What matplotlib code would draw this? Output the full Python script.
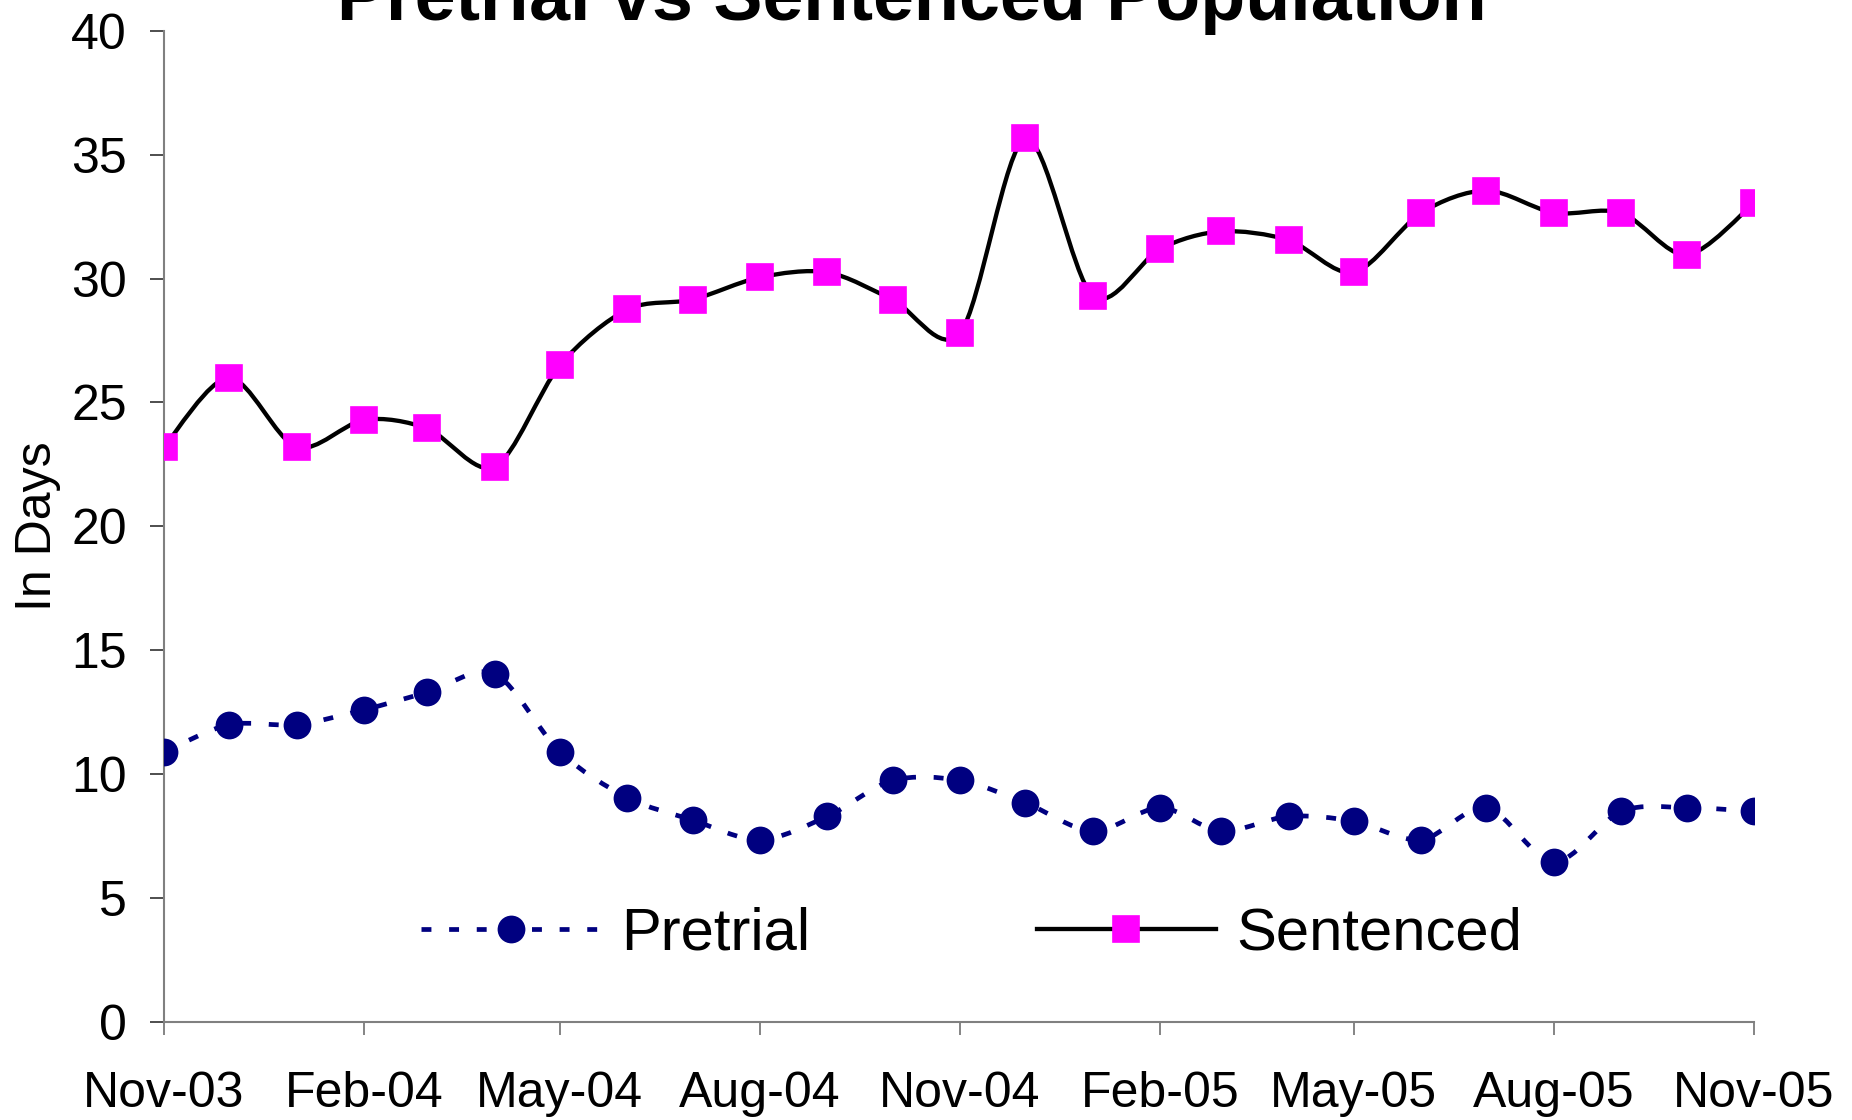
import matplotlib
matplotlib.use("Agg")
import matplotlib.pyplot as plt
import matplotlib.dates as mdates
from matplotlib.path import Path
from matplotlib.patches import PathPatch
from matplotlib.lines import Line2D
import datetime as dt

# ---- data ----
months = ["2003-11", "2003-12", "2004-01", "2004-02", "2004-03", "2004-04", "2004-05",
          "2004-06", "2004-07", "2004-08", "2004-09", "2004-10", "2004-11", "2004-12",
          "2005-01", "2005-02", "2005-03", "2005-04", "2005-05", "2005-06", "2005-07",
          "2005-08", "2005-09", "2005-10", "2005-11"]
pretrial = [10.9, 12.0, 12.0, 12.6, 13.3, 14.05, 10.9, 9.05, 8.15, 7.35, 8.3, 9.75,
            9.75, 8.85, 7.7, 8.65, 7.7, 8.3, 8.1, 7.35, 8.65, 6.45, 8.5, 8.65, 8.5]
sentenced = [23.2, 26.0, 23.2, 24.3, 23.95, 22.4, 26.5, 28.75, 29.15, 30.05, 30.25,
             29.15, 27.8, 35.65, 29.3, 31.2, 31.9, 31.55, 30.25, 32.65, 33.55, 32.65,
             32.65, 30.95, 33.05]
tick_months = ["2003-11", "2004-02", "2004-05", "2004-08", "2004-11", "2005-02",
               "2005-05", "2005-08", "2005-11"]
title = "Pretrial vs Sentenced Population"
ylabel = "In Days"

plt.rcParams['font.family'] = ['Liberation Sans', 'DejaVu Sans']

def to_date(s):
    y, m = s.split("-")
    return dt.datetime(int(y), int(m), 1)

dates = [to_date(m) for m in months]
xnum = mdates.date2num(dates)
tick_dates = [to_date(m) for m in tick_months]

def smooth_path(xs, ys, k=1 / 6.0):
    n = len(xs)
    verts = [(xs[0], ys[0])]
    codes = [Path.MOVETO]
    for i in range(n - 1):
        p0 = i - 1 if i > 0 else 0
        p3 = i + 2 if i + 2 < n else n - 1
        c1 = (xs[i] + (xs[i + 1] - xs[p0]) * k, ys[i] + (ys[i + 1] - ys[p0]) * k)
        c2 = (xs[i + 1] - (xs[p3] - xs[i]) * k, ys[i + 1] - (ys[p3] - ys[i]) * k)
        verts += [c1, c2, (xs[i + 1], ys[i + 1])]
        codes += [Path.CURVE4] * 3
    return Path(verts, codes)

W, H, DPI = 1852, 1120, 100
fig = plt.figure(figsize=(W / DPI, H / DPI), dpi=DPI)
ax = fig.add_axes([0.08855, 0.0875, 0.9471 - 0.08855, 0.9726 - 0.0875])

navy = "#000080"
magenta = "#FF00FF"
dash = (0, (2.1, 3.75))
lw_sent = 3.1
lw_pre = 3.4
ms_circ = 20
ms_sq = 18.8

# sentenced smoothed line
ax.add_patch(PathPatch(smooth_path(xnum, sentenced, 0.15), fill=False, edgecolor="black",
                       linewidth=lw_sent, zorder=2, capstyle="round", joinstyle="round"))
# pretrial smoothed dotted line
ax.add_patch(PathPatch(smooth_path(xnum, pretrial, 0.15), fill=False, edgecolor=navy,
                       linewidth=lw_pre, linestyle=dash, capstyle="butt", zorder=2))

ax.plot(dates, pretrial, linestyle="none", marker="o", markersize=ms_circ,
        markerfacecolor=navy, markeredgecolor=navy, markeredgewidth=0, zorder=3)
sq = ax.plot(dates, sentenced, linestyle="none", marker="s", markersize=ms_sq,
             markerfacecolor=magenta, markeredgecolor=magenta, markeredgewidth=1.2,
             zorder=3)[0]
sq.set_solid_joinstyle("round")

ax.set_xlim(dates[0], dates[-1])
ax.set_ylim(0, 40)
ax.set_yticks(range(0, 41, 5))
ax.set_xticks(tick_dates)
ax.xaxis.set_major_formatter(mdates.DateFormatter("%b-%y"))

for s in ["top", "right"]:
    ax.spines[s].set_visible(False)
for s in ["left", "bottom"]:
    ax.spines[s].set_color("#808080")
    ax.spines[s].set_linewidth(1.5)
    ax.spines[s].set_clip_on(False)

ax.tick_params(axis="y", direction="out", length=9.8, width=1.2, color="#303030",
               labelsize=36, pad=17)
ax.tick_params(axis="x", direction="out", length=9.5, width=1.2, color="#707070",
               labelsize=36, pad=26)

ax.set_ylabel(ylabel, fontsize=36)
ax.yaxis.set_label_coords(-0.065, 0.5)

fig.text(0.4925, 1 - 20 / H, title, ha="center", va="baseline",
         fontsize=53, fontweight="bold")

h1 = Line2D([], [], color=navy, linewidth=lw_pre, linestyle=dash, marker="o",
            markersize=ms_circ, markerfacecolor=navy, markeredgecolor=navy,
            markeredgewidth=0, dash_capstyle="butt")
h2 = Line2D([], [], color="black", linewidth=lw_sent, marker="s", markersize=ms_sq,
            markerfacecolor=magenta, markeredgecolor=magenta, markeredgewidth=1.2)
leg = ax.legend([h1, h2], ["Pretrial", "Sentenced"], loc="center",
                bbox_to_anchor=(0.508, 0.0885), ncol=2, frameon=False,
                fontsize=43, handlelength=3.0, handletextpad=0.34,
                columnspacing=3.8, borderpad=0, borderaxespad=0, numpoints=1)

fig.savefig("out.png", dpi=DPI)
